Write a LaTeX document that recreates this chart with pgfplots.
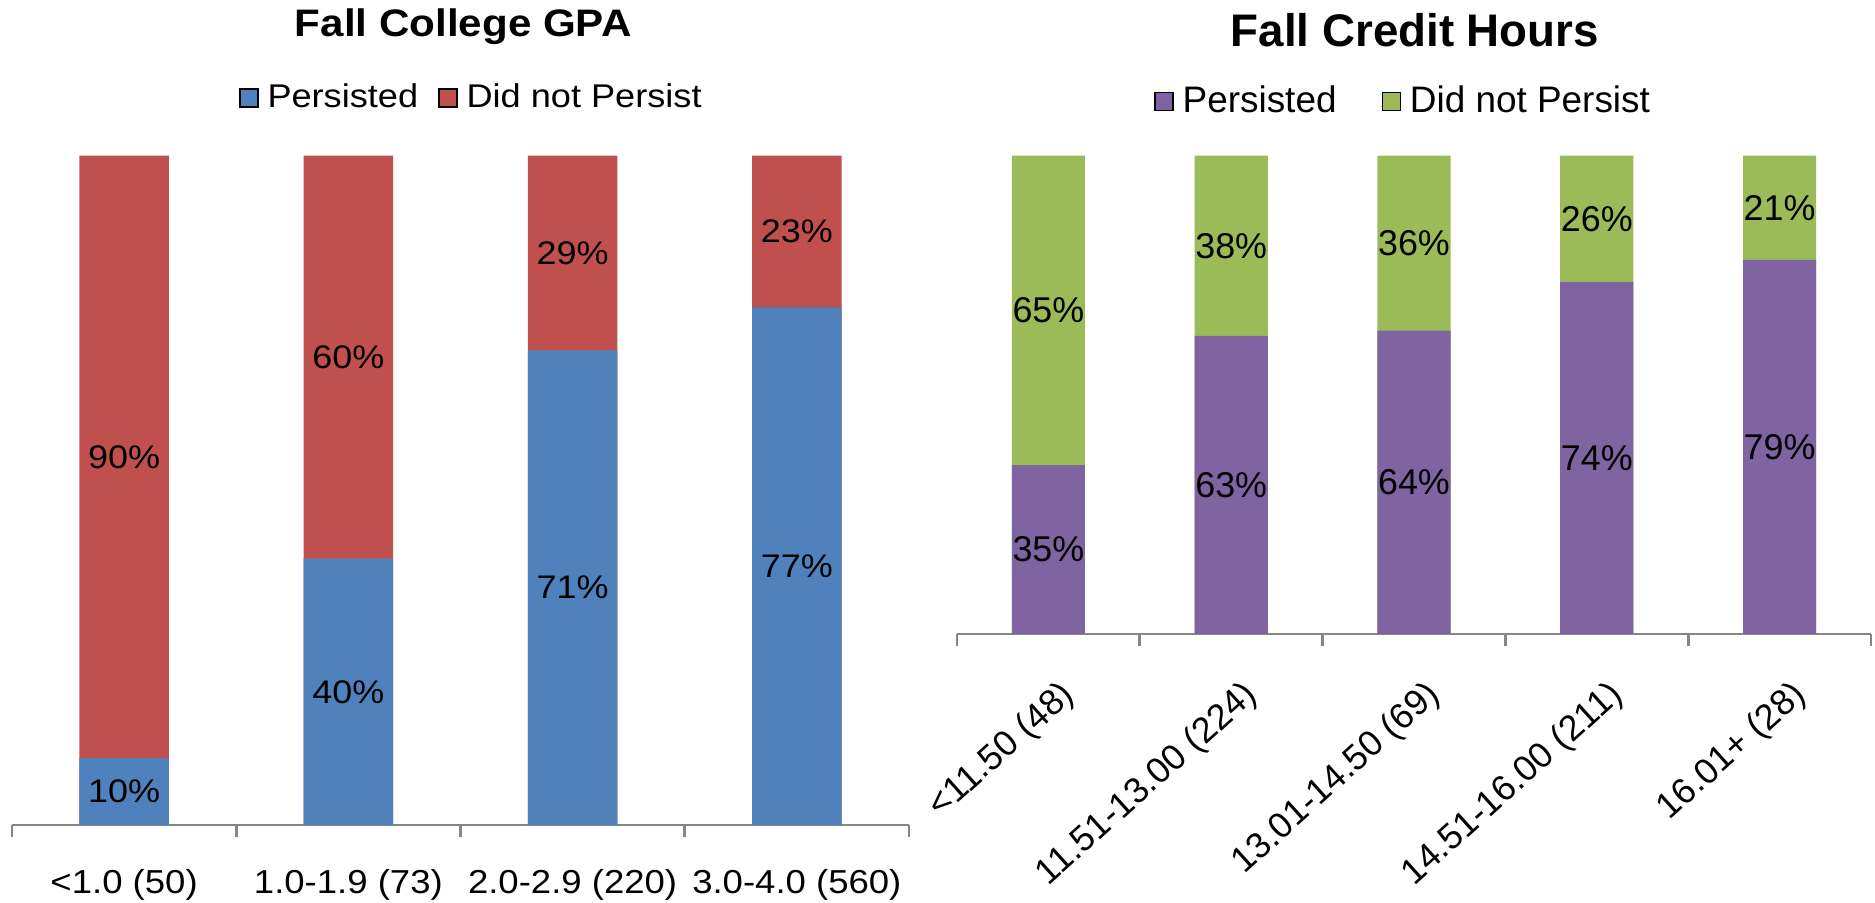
\documentclass[border=0pt]{standalone}
\usepackage{fontspec}
\setmainfont{Liberation Sans}
\newfontfamily\widesf{Liberation Sans}[FakeStretch=1.1]
\usepackage{pgfplots}
\pgfplotsset{compat=1.18}
\definecolor{gpaBlue}{HTML}{4F81BD}
\definecolor{gpaRed}{HTML}{C0504D}
\definecolor{chPurple}{HTML}{8064A2}
\definecolor{chGreen}{HTML}{9BBB59}
\definecolor{axGray}{HTML}{868686}

\pgfplotsset{
  barchart/.style={
    scale only axis, ymin=0, ymax=100, clip=false,
    hide y axis, axis x line*=bottom,
    x axis line style={axGray, line width=0.8pt},
    every tick/.style={axGray, line width=0.8pt},
    major tick length=0pt, minor tick length=1.2mm, tick align=outside,
    xticklabel style={text=black},
    title style={anchor=center, yshift=-6pt},
    legend style={draw=none, fill=none, legend columns=2, anchor=center,
      nodes={inner xsep=0pt, inner ysep=1pt},
      /tikz/every odd column/.append style={column sep=0.9mm}},
    legend image code/.code={\fill[##1] (0mm,-0.85mm) rectangle (1.8mm,0.95mm);},
  },
  bars/.style={ybar, bar width=0.4, bar shift=0pt, draw=none, fill=#1, forget plot},
  lbl/.style={only marks, mark size=0pt, mark options={draw=none, fill=none},
    nodes near coords, point meta=explicit symbolic, forget plot,
    every node near coord/.append style={anchor=center, text=black, font=#1}},
}

\begin{document}
\begin{tikzpicture}
\useasboundingbox (0,0) rectangle (187.5mm,90.2mm);

% left: fall college GPA
\begin{axis}[barchart,
  at={(1.2mm,7.7mm)}, anchor=south west,
  width=89.7mm, height=66.95mm,
  xmin=-0.5, xmax=3.5,
  xtick={0,1,2,3},
  xticklabels={<1.0 (50),1.0-1.9 (73),2.0-2.9 (220),3.0-4.0 (560)},
  minor xtick={-0.5,0.5,1.5,2.5,3.5},
  xticklabel style={anchor=base, yshift=-6.8mm, font=\widesf\fontsize{9.45}{11}\selectfont},
  title={Fall College GPA},
  title style={at={(0.503,1.193)}, font=\widesf\bfseries\fontsize{10.9}{13}\selectfont},
  legend style={at={(0.511,1.085)}, font=\widesf\fontsize{9.35}{11}\selectfont,
    /tikz/every even column/.append style={column sep=2.0mm}},
]
\addplot[bars=gpaRed] coordinates {(0,100) (1,100) (2,100) (3,100)};
\addplot[bars=gpaBlue] coordinates {(0,10) (1,39.8) (2,70.9) (3,77.3)};
\addplot[lbl=\widesf\fontsize{9.3}{11}\selectfont] coordinates {(0,5) [10\%] (1,19.9) [40\%] (2,35.45) [71\%] (3,38.65) [77\%]};
\addplot[lbl=\widesf\fontsize{9.3}{11}\selectfont] coordinates {(0,55) [90\%] (1,69.9) [60\%] (2,85.45) [29\%] (3,88.65) [23\%]};
\addlegendimage{fill=gpaBlue}
\addlegendentry{Persisted}
\addlegendimage{fill=gpaRed}
\addlegendentry{Did not Persist}
\end{axis}

% right: fall credit hours
\begin{axis}[barchart,
  at={(95.7mm,26.8mm)}, anchor=south west,
  width=91.4mm, height=47.85mm,
  xmin=-0.5, xmax=4.5,
  xtick={0.055,1.055,2.055,3.055,4.055},
  xticklabels={<11.50 (48),11.51-13.00 (224),13.01-14.50 (69),14.51-16.00 (211),16.01+ (28)},
  minor xtick={-0.5,0.5,1.5,2.5,3.5,4.5},
  xticklabel style={inner sep=0pt, yshift=-4.3mm, rotate=42, anchor=north east,
    font=\fontsize{10.2}{12}\selectfont},
  title={Fall Credit Hours},
  title style={at={(0.501,1.262)}, font=\bfseries\fontsize{13}{15}\selectfont},
  legend style={at={(0.487,1.112)}, font=\fontsize{10.5}{12}\selectfont,
    /tikz/every even column/.append style={column sep=4.5mm}},
]
\addplot[bars=chGreen] coordinates {(0,100) (1,100) (2,100) (3,100) (4,100)};
\addplot[bars=chPurple] coordinates {(0,35.3) (1,62.3) (2,63.4) (3,73.6) (4,78.2)};
\addplot[lbl=\fontsize{10.2}{12}\selectfont] coordinates {(0,17.65) [35\%] (1,31.15) [63\%] (2,31.7) [64\%] (3,36.8) [74\%] (4,39.1) [79\%]};
\addplot[lbl=\fontsize{10.2}{12}\selectfont] coordinates {(0,67.65) [65\%] (1,81.15) [38\%] (2,81.7) [36\%] (3,86.8) [26\%] (4,89.1) [21\%]};
\addlegendimage{fill=chPurple}
\addlegendentry{Persisted}
\addlegendimage{fill=chGreen}
\addlegendentry{Did not Persist}
\end{axis}
\end{tikzpicture}
\end{document}
